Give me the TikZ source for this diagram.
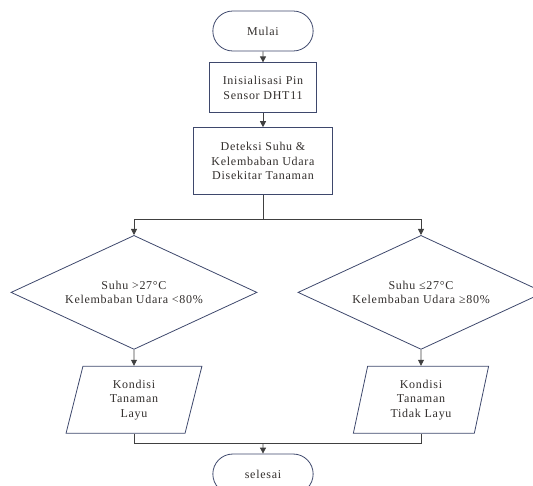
\documentclass[tikz,border=0pt]{standalone}
\usepackage{fontspec}
\setmainfont{Liberation Serif}[LetterSpace=6]
\usetikzlibrary{
    shapes.geometric, % For diamond and trapezium
    shapes.misc,      % For rounded rectangle
    arrows.meta,      % For arrow tip styles
    positioning       % For relative positioning (below=of ...)
}
\definecolor{edgeblue}{RGB}{62,72,108}
\definecolor{linegray}{RGB}{64,64,64}
\definecolor{textgray}{RGB}{50,46,44}

\begin{document}
\begin{tikzpicture}[
    x=1pt, y=1pt,
    node distance=11pt, % Vertical spacing
    % Define styles
    every node/.style={font=\fontsize{12}{14.5}\selectfont, text=textgray},
    terminal/.style={rounded rectangle, draw=edgeblue, line width=0.8pt, minimum width=107pt, minimum height=40pt}, % Start / end
    process/.style={rectangle, draw=edgeblue, line width=0.8pt, align=center, inner sep=2pt}, % Processing step
    decision/.style={diamond, draw=edgeblue, line width=0.8pt, aspect=2.16, inner sep=0pt, minimum width=246pt, minimum height=114pt, align=center}, % Condition
    output/.style={trapezium, trapezium left angle=79, trapezium right angle=101, trapezium stretches=true, draw=edgeblue, line width=0.8pt, minimum width=136pt, minimum height=67pt, align=center}, % Result
    arrow/.style={draw=linegray, line width=0.8pt, -{Triangle[length=6pt, width=6pt]}}, % Arrow style
    line/.style={draw=linegray, line width=0.8pt} % Plain connector
]
\useasboundingbox (0,0) rectangle (533,485);

% ----- START AND SENSING -----
\node (mulai)   [terminal] at (263,454) {Mulai};
\node (init)    [process, minimum width=107pt, minimum height=50pt, below=of mulai] {Inisialisasi Pin\\Sensor DHT11};
\node (deteksi) [process, minimum width=139pt, minimum height=67pt, below=14pt of init] {Deteksi Suhu \&\\Kelembaban Udara\\Disekitar Tanaman};
\coordinate [below=24pt of deteksi.south] (split);

% ----- CONDITIONS -----
\node (dleft)  [decision, below=40pt of deteksi, xshift=-129pt] {Suhu >27°C\\Kelembaban Udara <80\%};
\node (dright) [decision, below=40pt of deteksi, xshift=158pt] {Suhu ≤27°C\\Kelembaban Udara ≥80\%};
\node (pleft)  [output, below=16pt of dleft] {Kondisi\\Tanaman\\Layu};
\node (pright) [output, below=16pt of dright] {Kondisi\\Tanaman\\Tidak Layu};

% ----- END -----
\path (pleft.south -| deteksi.south) ++(0,-10) coordinate (join);
\node (selesai) [terminal, below=10pt of join] {selesai};

% Draw arrows
\draw [arrow] (mulai) -- (init);
\draw [arrow] (init) -- (deteksi);
\draw [line] (deteksi) -- (split);
\draw [arrow] (split) -| (dleft);
\draw [arrow] (split) -| (dright);
\draw [arrow] (dleft) -- (pleft);
\draw [arrow] (dright) -- (pright);
\draw [line] (pleft) |- (join) -| (pright);
\draw [arrow] (join) -- (selesai);

\end{tikzpicture}
\end{document}
